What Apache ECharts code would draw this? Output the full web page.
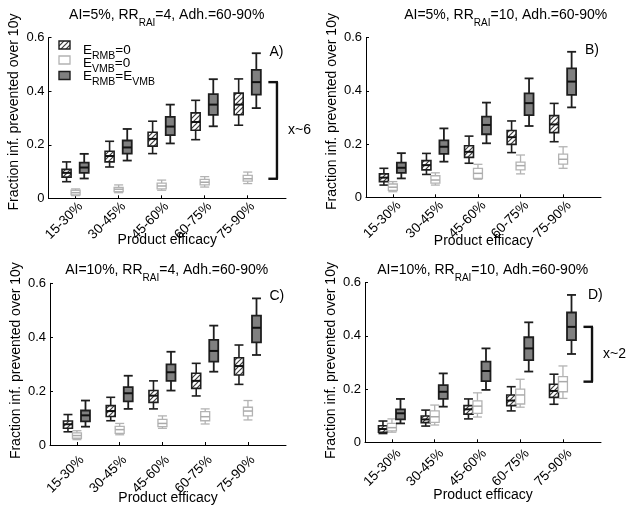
<!DOCTYPE html>
<html><head><meta charset="utf-8">
<script src="https://cdn.jsdelivr.net/npm/echarts/dist/echarts.min.js"></script>
<style>html,body{margin:0;padding:0;background:#fff}#c{width:636px;height:515px}</style>
</head><body><div id="c"></div>
<script>
// ---------- data ----------
const categories = ['15-30%', '30-45%', '45-60%', '60-75%', '75-90%'];
const yTickValues = [0, 0.2, 0.4, 0.6];
const yAxisTitle = 'Fraction inf. prevented over 10y';
const xAxisTitle = 'Product efficacy';
const panelLetters = ['A)', 'B)', 'C)', 'D)'];
const titleA = ['AI=5%, RR', 'RAI', '=4, Adh.=60-90%'];
const titleB = ['AI=5%, RR', 'RAI', '=10, Adh.=60-90%'];
const titleC = ['AI=10%, RR', 'RAI', '=4, Adh.=60-90%'];
const titleD = ['AI=10%, RR', 'RAI', '=10, Adh.=60-90%'];
const legendRMB0 = ['E', 'RMB', '=0'];
const legendVMB0 = ['E', 'VMB', '=0'];
const legendBoth = ['E', 'RMB', '=E', 'VMB'];
const bracketLabelA = 'x~6';
const bracketLabelD = 'x~2';

// box stats: [min, q1, median, q3, max]
const A_rmb0 = [[0.062,0.079,0.095,0.108,0.136],[0.117,0.136,0.158,0.176,0.213],[0.167,0.195,0.222,0.247,0.288],[0.219,0.254,0.285,0.319,0.366],[0.273,0.312,0.350,0.393,0.446]];
const A_vmb0 = [[0.010,0.013,0.021,0.030,0.035],[0.021,0.025,0.034,0.041,0.050],[0.030,0.035,0.046,0.057,0.068],[0.042,0.050,0.060,0.071,0.081],[0.055,0.064,0.073,0.086,0.098]];
const A_both = [[0.074,0.095,0.115,0.133,0.166],[0.141,0.167,0.190,0.216,0.259],[0.205,0.236,0.268,0.304,0.350],[0.269,0.312,0.350,0.389,0.445],[0.337,0.387,0.434,0.480,0.542]];

const B_rmb0 = [[0.046,0.059,0.074,0.088,0.109],[0.086,0.103,0.121,0.138,0.165],[0.128,0.150,0.171,0.194,0.230],[0.168,0.199,0.226,0.251,0.287],[0.209,0.243,0.274,0.307,0.353]];
const B_vmb0 = [[0.021,0.026,0.038,0.050,0.059],[0.046,0.053,0.065,0.081,0.092],[0.068,0.071,0.090,0.109,0.124],[0.088,0.103,0.119,0.132,0.159],[0.109,0.125,0.143,0.162,0.190]];
const B_both = [[0.071,0.092,0.111,0.130,0.166],[0.134,0.163,0.190,0.214,0.259],[0.203,0.237,0.272,0.303,0.356],[0.268,0.309,0.354,0.391,0.447],[0.338,0.385,0.435,0.485,0.547]];

const C_rmb0 = [[0.049,0.062,0.077,0.089,0.113],[0.090,0.106,0.126,0.146,0.177],[0.134,0.158,0.183,0.202,0.238],[0.182,0.210,0.238,0.266,0.303],[0.225,0.260,0.293,0.324,0.371]];
const C_vmb0 = [[0.020,0.025,0.035,0.045,0.053],[0.038,0.043,0.057,0.069,0.080],[0.062,0.068,0.080,0.095,0.108],[0.078,0.090,0.105,0.124,0.134],[0.093,0.108,0.126,0.140,0.165]];
const C_both = [[0.068,0.088,0.110,0.128,0.165],[0.134,0.162,0.192,0.215,0.257],[0.202,0.238,0.270,0.299,0.346],[0.272,0.309,0.349,0.390,0.443],[0.334,0.381,0.435,0.480,0.544]];

const D_rmb0 = [[0.033,0.038,0.050,0.062,0.080],[0.061,0.074,0.086,0.099,0.121],[0.088,0.106,0.124,0.138,0.163],[0.118,0.138,0.157,0.178,0.209],[0.143,0.169,0.193,0.218,0.256]];
const D_vmb0 = [[0.038,0.043,0.055,0.071,0.088],[0.065,0.075,0.096,0.118,0.140],[0.095,0.109,0.136,0.156,0.186],[0.132,0.144,0.178,0.200,0.237],[0.165,0.190,0.228,0.247,0.287]];
const D_both = [[0.071,0.086,0.109,0.124,0.163],[0.134,0.163,0.190,0.215,0.259],[0.197,0.230,0.268,0.303,0.353],[0.266,0.309,0.353,0.395,0.451],[0.332,0.384,0.434,0.488,0.554]];

// ---------- styling / layout ----------
const FONT = '"Liberation Sans", Arial, Helvetica, sans-serif';
const BOX_W = 0.21;
const OFFS = {rmb0: -0.21, vmb0: 0, both: 0.2};
const X_MIN = 0.37, X_MAX = 5.89;
const BRACKET_X = 5.68, BRACKET_TICK = 0.2;

function makeHatch() {
  const c = document.createElement('canvas');
  c.width = 5; c.height = 5;
  const g = c.getContext('2d');
  g.fillStyle = '#fff'; g.fillRect(0, 0, 5, 5);
  g.strokeStyle = '#3c3c3c'; g.lineWidth = 1.2;
  g.beginPath();
  g.moveTo(-1, 6); g.lineTo(6, -1);
  g.moveTo(-1, 1); g.lineTo(1, -1);
  g.moveTo(4, 6); g.lineTo(6, 4);
  g.stroke();
  return c;
}
const hatch = {image: makeHatch(), repeat: 'repeat'};

const STY = {
  rmb0: {fill: hatch, stroke: '#1e1e1e', lw: 1.6, med: '#111', medLw: 2},
  vmb0: {fill: '#ffffff', stroke: '#b3b3b3', lw: 1.3, med: '#aaaaaa', medLw: 1.5},
  both: {fill: '#808080', stroke: '#1e1e1e', lw: 1.8, med: '#111', medLw: 2}
};

const grids = [
  {left: 48.5, top: 37.7, width: 237.5, height: 160.6, lblDx: 5, lblDy: 6, nameGap: 35, yGap: 27, yShift: 12},
  {left: 366, top: 37.7, width: 235, height: 159.6, lblDx: 6, lblDy: 6, nameGap: 37, yGap: 27, yShift: 12},
  {left: 50, top: 283.3, width: 236, height: 161.7, lblDx: 5, lblDy: 13, nameGap: 46, yGap: 27, yShift: 7},
  {left: 365, top: 282.7, width: 236, height: 159.6, lblDx: 7, lblDy: 9, nameGap: 46, yGap: 27, yShift: 4}
];

function renderBox(st) {
  return function (params, api) {
    const x = api.value(0);
    const p = [1, 2, 3, 4, 5].map(k => api.coord([x, api.value(k)]));
    const w = api.size([BOX_W, 0])[0];
    const cx = p[0][0], l = cx - w / 2, r = cx + w / 2;
    const ls = {stroke: st.stroke, lineWidth: st.lw, fill: null};
    return {type: 'group', children: [
      {type: 'line', shape: {x1: cx, y1: p[4][1], x2: cx, y2: p[3][1]}, style: ls},
      {type: 'line', shape: {x1: cx, y1: p[0][1], x2: cx, y2: p[1][1]}, style: ls},
      {type: 'line', shape: {x1: l, y1: p[4][1], x2: r, y2: p[4][1]}, style: ls},
      {type: 'line', shape: {x1: l, y1: p[0][1], x2: r, y2: p[0][1]}, style: ls},
      {type: 'rect', shape: {x: l, y: p[3][1], width: w, height: p[1][1] - p[3][1]},
        style: {fill: st.fill, stroke: st.stroke, lineWidth: st.lw}},
      {type: 'line', shape: {x1: l, y1: p[2][1], x2: r, y2: p[2][1]}, style: {stroke: st.med, lineWidth: st.medLw}}
    ]};
  };
}

function boxSeries(panel, stats, kind) {
  return {
    type: 'custom', xAxisIndex: panel, yAxisIndex: panel, silent: true, clip: false,
    data: stats.map((s, i) => [i + 1 + OFFS[kind]].concat(s)),
    renderItem: renderBox(STY[kind]), z: kind === 'both' ? 3 : 2
  };
}

// rotated category labels, placed through the axis scale
function labelSeries(panel) {
  const g = grids[panel];
  return {
    type: 'custom', xAxisIndex: panel, yAxisIndex: panel, silent: true, clip: false,
    data: categories.map((c, i) => [i + 1, yTickValues[0]]),
    renderItem: function (params, api) {
      const p = api.coord([api.value(0), api.value(1)]);
      return {type: 'text', x: p[0] + g.lblDx, y: p[1] + g.lblDy, rotation: Math.PI / 4,
        style: {text: categories[params.dataIndex], fill: '#000', font: '13.5px ' + FONT,
          align: 'right', verticalAlign: 'middle'}};
    }
  };
}

function bracketSeries(panel, hiStats, loStats, label) {
  const last = categories.length - 1;
  return {
    type: 'custom', xAxisIndex: panel, yAxisIndex: panel, silent: true, clip: false,
    data: [[BRACKET_X, hiStats[last][2], loStats[last][2]]],
    renderItem: function (params, api) {
      const t = api.coord([api.value(0), api.value(1)]);
      const b = api.coord([api.value(0), api.value(2)]);
      const tl = api.size([BRACKET_TICK, 0])[0];
      const ls = {stroke: '#111', lineWidth: 2.4};
      return {type: 'group', children: [
        {type: 'line', shape: {x1: t[0], y1: t[1], x2: b[0], y2: b[1]}, style: ls},
        {type: 'line', shape: {x1: t[0] - tl, y1: t[1], x2: t[0] + 1, y2: t[1]}, style: ls},
        {type: 'line', shape: {x1: b[0] - tl, y1: b[1], x2: b[0] + 1, y2: b[1]}, style: ls},
        {type: 'text', x: t[0] + 11, y: (t[1] + b[1]) / 2,
          style: {text: label, fill: '#000', font: '14px ' + FONT, align: 'left', verticalAlign: 'middle'}}
      ]};
    }
  };
}

const axisLbl = {color: '#000', fontSize: 13, fontFamily: FONT};

const xAxes = grids.map((g, i) => ({
  type: 'value', gridIndex: i, min: X_MIN, max: X_MAX,
  name: xAxisTitle, nameLocation: 'middle', nameGap: g.nameGap, nameMoveOverlap: false,
  nameTextStyle: {color: '#000', fontSize: 14, fontFamily: FONT},
  axisLine: {show: true, lineStyle: {color: '#000', width: 1}},
  axisTick: {show: true, inside: true, length: 3, customValues: [1, 2, 3, 4, 5], lineStyle: {color: '#000'}},
  axisLabel: {show: false},
  splitLine: {show: false}
}));

const yAxes = grids.map((g, i) => ({
  type: 'value', gridIndex: i, min: yTickValues[0], max: yTickValues[yTickValues.length - 1], interval: 0.2,
  name: yAxisTitle, nameLocation: 'middle', nameGap: g.yGap, nameRotate: 90, nameMoveOverlap: false,
  nameTextStyle: {color: '#000', fontSize: 14, fontFamily: FONT, padding: [0, 0, 0, g.yShift]},
  axisLine: {show: true, lineStyle: {color: '#000', width: 1}},
  axisTick: {show: true, inside: true, length: 3, lineStyle: {color: '#000'}},
  axisLabel: Object.assign({margin: 4, formatter: v => (v === 0 ? '0' : v.toFixed(1))}, axisLbl),
  splitLine: {show: false}
}));

function rich(parts) {
  let s = '';
  parts.forEach((p, k) => { s += (k % 2 === 0 ? '{m|' : '{s|') + p + '}'; });
  return s;
}
const titleRich = {
  m: {fontSize: 14, fontFamily: FONT, fill: '#000', lineHeight: 16},
  s: {fontSize: 10, fontFamily: FONT, fill: '#000', lineHeight: 16, padding: [16, 0, 0, 0]}
};
const legRich = {
  m: {fontSize: 13.5, fontFamily: FONT, fill: '#000', lineHeight: 14},
  s: {fontSize: 10.5, fontFamily: FONT, fill: '#000', lineHeight: 14, padding: [12, 0, 0, 0]}
};

const titles = [[titleA, 166.7, 15], [titleB, 505.7, 15], [titleC, 166.7, 270], [titleD, 482.7, 270]];
const letterPos = [[269.5, 52], [585, 50], [269.5, 296.5], [588, 295.5]];

const graphic = [];
titles.forEach(t => graphic.push({type: 'text', x: t[1], y: t[2], silent: true,
  style: {text: rich(t[0]), align: 'center', verticalAlign: 'middle', rich: titleRich}}));
letterPos.forEach((p, i) => graphic.push({type: 'text', x: p[0], y: p[1], silent: true,
  style: {text: panelLetters[i], fill: '#000', font: '14px ' + FONT, align: 'left', verticalAlign: 'middle'}}));
// legend (panel A)
const legItems = [[legendRMB0, 'rmb0', 41, 50], [legendVMB0, 'vmb0', 56, 63], [legendBoth, 'both', 71.5, 76]];
legItems.forEach(it => {
  const st = STY[it[1]];
  graphic.push({type: 'rect', silent: true, shape: {x: 59, y: it[2], width: 11, height: 8},
    style: {fill: st.fill, stroke: st.stroke, lineWidth: it[1] === 'vmb0' ? 1.3 : 1.4}});
  graphic.push({type: 'text', x: 83, y: it[3], silent: true,
    style: {text: rich(it[0]), align: 'left', verticalAlign: 'middle', rich: legRich}});
});

const series = [
  boxSeries(0, A_rmb0, 'rmb0'), boxSeries(0, A_vmb0, 'vmb0'), boxSeries(0, A_both, 'both'),
  boxSeries(1, B_rmb0, 'rmb0'), boxSeries(1, B_vmb0, 'vmb0'), boxSeries(1, B_both, 'both'),
  boxSeries(2, C_rmb0, 'rmb0'), boxSeries(2, C_vmb0, 'vmb0'), boxSeries(2, C_both, 'both'),
  boxSeries(3, D_rmb0, 'rmb0'), boxSeries(3, D_vmb0, 'vmb0'), boxSeries(3, D_both, 'both'),
  bracketSeries(0, A_both, A_vmb0, bracketLabelA),
  bracketSeries(3, D_both, D_vmb0, bracketLabelD),
  labelSeries(0), labelSeries(1), labelSeries(2), labelSeries(3)
];

const chart = echarts.init(document.getElementById('c'), null, {renderer: 'canvas'});
chart.setOption({
  animation: false,
  backgroundColor: '#ffffff',
  grid: grids.map(g => ({left: g.left, top: g.top, width: g.width, height: g.height, outerBoundsMode: 'none', containLabel: false})),
  xAxis: xAxes,
  yAxis: yAxes,
  graphic: graphic,
  series: series
});
</script>
</body></html>
